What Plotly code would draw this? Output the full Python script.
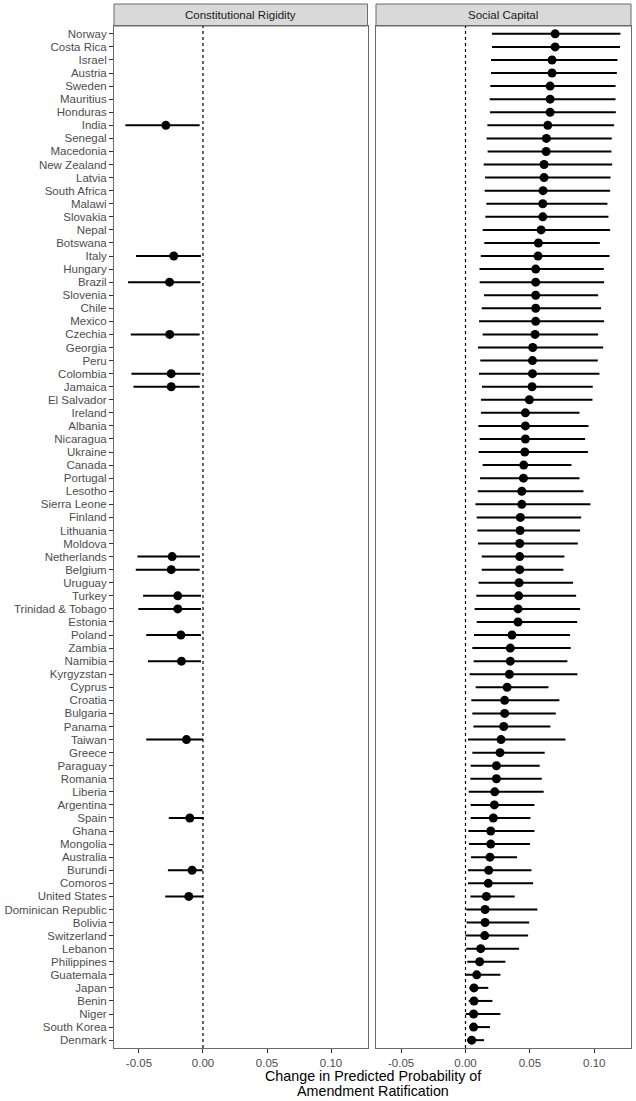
import plotly.graph_objects as go

countries = ["Norway", "Costa Rica", "Israel", "Austria", "Sweden", "Mauritius", "Honduras", "India",
             "Senegal", "Macedonia", "New Zealand", "Latvia", "South Africa", "Malawi", "Slovakia", "Nepal",
             "Botswana", "Italy", "Hungary", "Brazil", "Slovenia", "Chile", "Mexico", "Czechia", "Georgia",
             "Peru", "Colombia", "Jamaica", "El Salvador", "Ireland", "Albania", "Nicaragua", "Ukraine",
             "Canada", "Portugal", "Lesotho", "Sierra Leone", "Finland", "Lithuania", "Moldova",
             "Netherlands", "Belgium", "Uruguay", "Turkey", "Trinidad & Tobago", "Estonia", "Poland",
             "Zambia", "Namibia", "Kyrgyzstan", "Cyprus", "Croatia", "Bulgaria", "Panama", "Taiwan",
             "Greece", "Paraguay", "Romania", "Liberia", "Argentina", "Spain", "Ghana", "Mongolia",
             "Australia", "Burundi", "Comoros", "United States", "Dominican Republic", "Bolivia",
             "Switzerland", "Lebanon", "Philippines", "Guatemala", "Japan", "Benin", "Niger",
             "South Korea", "Denmark"]

# Constitutional Rigidity (only some countries)
cr = {
    "India": (-0.0290, -0.0606, -0.0026),
    "Italy": (-0.0228, -0.0523, -0.0016),
    "Brazil": (-0.0261, -0.0585, -0.0020),
    "Czechia": (-0.0260, -0.0564, -0.0026),
    "Colombia": (-0.0248, -0.0559, -0.0020),
    "Jamaica": (-0.0248, -0.0543, -0.0026),
    "Netherlands": (-0.0241, -0.0512, -0.0023),
    "Belgium": (-0.0248, -0.0525, -0.0026),
    "Turkey": (-0.0197, -0.0468, -0.0016),
    "Trinidad & Tobago": (-0.0197, -0.0505, -0.0016),
    "Poland": (-0.0173, -0.0443, -0.0016),
    "Namibia": (-0.0168, -0.0430, -0.0016),
    "Taiwan": (-0.0129, -0.0443, 0.0000),
    "Spain": (-0.0103, -0.0267, 0.0005),
    "Burundi": (-0.0085, -0.0274, -0.0003),
    "United States": (-0.0111, -0.0295, 0.0000),
}
cr_est = [cr[c][0] if c in cr else None for c in countries]
cr_lo = [cr[c][1] if c in cr else None for c in countries]
cr_hi = [cr[c][2] if c in cr else None for c in countries]

sc_est = [0.0696, 0.0696, 0.0672, 0.0672, 0.0657, 0.0657, 0.0657, 0.0639, 0.0628, 0.0626,
          0.0610, 0.0610, 0.0602, 0.0600, 0.0600, 0.0587, 0.0566, 0.0563, 0.0545, 0.0545,
          0.0545, 0.0545, 0.0545, 0.0540, 0.0522, 0.0520, 0.0520, 0.0517, 0.0496, 0.0465,
          0.0465, 0.0465, 0.0460, 0.0452, 0.0450, 0.0437, 0.0437, 0.0426, 0.0424, 0.0421,
          0.0421, 0.0421, 0.0416, 0.0413, 0.0408, 0.0408, 0.0361, 0.0348, 0.0348, 0.0341,
          0.0323, 0.0304, 0.0304, 0.0297, 0.0276, 0.0268, 0.0240, 0.0240, 0.0227, 0.0224,
          0.0216, 0.0196, 0.0196, 0.0190, 0.0180, 0.0177, 0.0162, 0.0152, 0.0152, 0.0149,
          0.0118, 0.0110, 0.0087, 0.0066, 0.0066, 0.0063, 0.0063, 0.0048]
sc_lo = [0.0206, 0.0206, 0.0198, 0.0198, 0.0193, 0.0188, 0.0190, 0.0170, 0.0164, 0.0172,
         0.0141, 0.0152, 0.0149, 0.0162, 0.0154, 0.0133, 0.0146, 0.0119, 0.0109, 0.0110,
         0.0144, 0.0126, 0.0105, 0.0133, 0.0097, 0.0115, 0.0105, 0.0128, 0.0120, 0.0120,
         0.0100, 0.0110, 0.0102, 0.0133, 0.0113, 0.0095, 0.0077, 0.0087, 0.0092, 0.0097,
         0.0126, 0.0126, 0.0102, 0.0084, 0.0071, 0.0087, 0.0066, 0.0053, 0.0063, 0.0032,
         0.0079, 0.0045, 0.0053, 0.0061, 0.0019, 0.0053, 0.0040, 0.0038, 0.0025, 0.0040,
         0.0040, 0.0022, 0.0027, 0.0043, 0.0019, 0.0019, 0.0038, 0.0006, 0.0009, -0.0001,
         0.0006, 0.0014, -0.0004, 0.0030, 0.0025, 0.0001, 0.0030, 0.0012]
sc_hi = [0.1203, 0.1200, 0.1180, 0.1175, 0.1165, 0.1165, 0.1167, 0.1154, 0.1136, 0.1133,
         0.1139, 0.1126, 0.1123, 0.1102, 0.1110, 0.1123, 0.1043, 0.1118, 0.1074, 0.1076,
         0.1030, 0.1053, 0.1076, 0.1030, 0.1069, 0.1027, 0.1040, 0.0988, 0.0986, 0.0885,
         0.0955, 0.0929, 0.0950, 0.0823, 0.0885, 0.0916, 0.0970, 0.0898, 0.0890, 0.0872,
         0.0768, 0.0760, 0.0835, 0.0859, 0.0890, 0.0867, 0.0812, 0.0817, 0.0791, 0.0869,
         0.0644, 0.0729, 0.0701, 0.0659, 0.0776, 0.0615, 0.0576, 0.0592, 0.0607, 0.0535,
         0.0504, 0.0535, 0.0501, 0.0400, 0.0512, 0.0525, 0.0382, 0.0558, 0.0494, 0.0486,
         0.0416, 0.0310, 0.0271, 0.0177, 0.0209, 0.0271, 0.0190, 0.0144]

panel_titles = ["Constitutional Rigidity", "Social Capital"]
x_tickvals = [-0.05, 0.0, 0.05, 0.10]
x_ticktext = ["-0.05", "0.00", "0.05", "0.10"]
x_title_lines = ["Change in Predicted Probability of", "Amendment Ratification"]

FONT = "Liberation Sans, Arial, Helvetica, sans-serif"
BORDER = "#6b6b6b"


def err(est, lo, hi):
    plus = [None if e is None else h - e for e, h in zip(est, hi)]
    minus = [None if e is None else e - l for e, l in zip(est, lo)]
    return dict(type="data", symmetric=False, array=plus, arrayminus=minus,
                width=0, thickness=2, color="black")


fig = go.Figure()
fig.add_trace(go.Scatter(x=cr_est, y=countries, mode="markers", xaxis="x", yaxis="y",
                         marker=dict(color="black", size=9), error_x=err(cr_est, cr_lo, cr_hi),
                         showlegend=False))
fig.add_trace(go.Scatter(x=sc_est, y=countries, mode="markers", xaxis="x2", yaxis="y2",
                         marker=dict(color="black", size=9), error_x=err(sc_est, sc_lo, sc_hi),
                         showlegend=False))

ytop = 1022 / 1044
dom1 = [0, 254.5 / 519]
dom2 = [263 / 519, 1]
xr = [-0.0695, 0.1285]
n = len(countries)

xax = dict(range=xr, tickvals=x_tickvals, ticktext=x_ticktext, ticks="outside", ticklen=4,
           tickwidth=1, tickcolor="#333333", showgrid=False, zeroline=False, showline=True,
           mirror=True, linecolor=BORDER, linewidth=1,
           tickfont=dict(family=FONT, size=11.5, color="#4D4D4D"))
yax = dict(type="category", categoryorder="array", categoryarray=countries,
           range=[n - 1 + 0.6, -0.6], showgrid=False, zeroline=False, showline=True,
           mirror=True, linecolor=BORDER, linewidth=1, domain=[0, ytop])

fig.update_layout(
    width=636, height=1101,
    margin=dict(l=113, r=4, t=4, b=53),
    paper_bgcolor="white", plot_bgcolor="white",
    font=dict(family=FONT),
    xaxis=dict(domain=dom1, anchor="y", **xax),
    xaxis2=dict(domain=dom2, anchor="y2", **xax),
    yaxis=dict(anchor="x", ticks="outside", ticklen=4, tickwidth=1, tickcolor="#333333",
               tickmode="linear", tick0=0, dtick=1,
               tickfont=dict(family=FONT, size=11.5, color="#4D4D4D"), **yax),
    yaxis2=dict(anchor="x2", showticklabels=False, ticks="", **yax),
)

shapes = []
annotations = []
for dom, ttl, xref in [(dom1, panel_titles[0], "x"), (dom2, panel_titles[1], "x2")]:
    shapes.append(dict(type="rect", xref="paper", yref="paper", x0=dom[0], x1=dom[1],
                       y0=ytop, y1=1.0, fillcolor="#D9D9D9", line=dict(color=BORDER, width=1),
                       layer="below"))
    annotations.append(dict(text=ttl, xref="paper", yref="paper", x=(dom[0] + dom[1]) / 2,
                            y=(ytop + 1) / 2, showarrow=False, xanchor="center", yanchor="middle",
                            font=dict(family=FONT, size=11.5, color="#1A1A1A")))
    shapes.append(dict(type="line", xref=xref, yref="paper", x0=0, x1=0, y0=0, y1=ytop,
                       line=dict(color="black", width=1.2, dash="dot")))

for line, shift in zip(x_title_lines, [-28, -43]):
    annotations.append(dict(text=line, xref="paper", yref="paper", x=0.5, y=0, yshift=shift,
                            showarrow=False, xanchor="center", yanchor="middle",
                            font=dict(family=FONT, size=14.3, color="black")))

fig.update_layout(shapes=shapes, annotations=annotations)
fig.write_html("out.html")
